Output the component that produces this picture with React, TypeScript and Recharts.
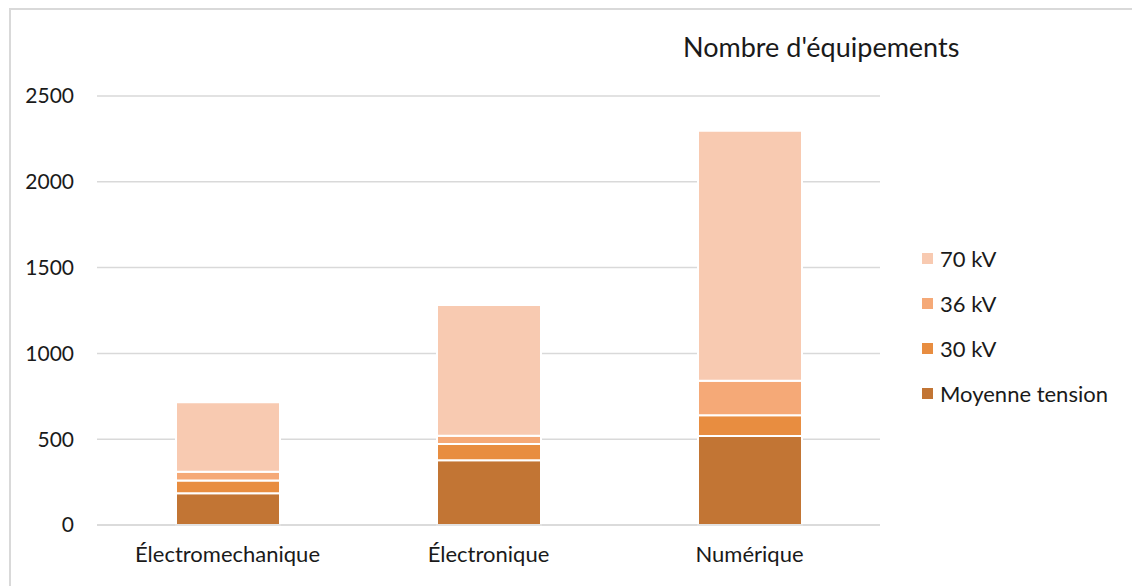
import { Bar, BarChart, CartesianGrid, XAxis, YAxis } from "recharts";

const categories = ["Électromechanique", "Électronique", "Numérique"];
const moyenneTension = [185, 377, 519];
const kv30 = [74, 95, 120];
const kv36 = [52, 48, 202];
const kv70 = [404, 762, 1457];
const yTicks = [0, 500, 1000, 1500, 2000, 2500];

const FONT = "Lato, 'Open Sans', sans-serif";
const TEXT = "#1a1a1a";
const GRID = "#D9D9D9";

const series = [
  { key: "mt", name: "Moyenne tension", color: "#C27534" },
  { key: "kv30", name: "30 kV", color: "#E88D40" },
  { key: "kv36", name: "36 kV", color: "#F5A977" },
  { key: "kv70", name: "70 kV", color: "#F8CAB1" },
];

const data = categories.map((c, i) => ({
  name: c,
  mt: moyenneTension[i],
  kv30: kv30[i],
  kv36: kv36[i],
  kv70: kv70[i],
}));

// legend drawn by hand, top item = last series (like Excel)
function LegendBox() {
  const items = [...series].reverse();
  return (
    <div style={{ fontFamily: FONT, fontSize: 22, color: TEXT }}>
      {items.map((s) => (
        <div key={s.key} style={{ display: "flex", alignItems: "center", height: 45 }}>
          <span style={{ width: 11, height: 11, background: s.color, marginRight: 7, display: "inline-block" }} />
          <span>{s.name}</span>
        </div>
      ))}
    </div>
  );
}

export default function App() {
  return (
    <div style={{ position: "absolute", left: 0, top: 0, width: 1132, height: 586, background: "#fff", overflow: "hidden" }}>
      <style>{"body{margin:0;overflow:hidden}"}</style>
      {/* chart frame: only left and top edges are visible in the crop */}
      <div
        style={{
          position: "absolute",
          left: 9,
          top: 8,
          width: 1121,
          height: 578,
          borderLeft: `2px solid ${GRID}`,
          borderTop: `2px solid ${GRID}`,
        }}
      />
      <div
        style={{
          position: "absolute",
          left: 683,
          top: 30,
          fontFamily: FONT,
          fontSize: 27,
          color: TEXT,
          whiteSpace: "nowrap",
        }}
      >
        Nombre d'équipements
      </div>
      <div style={{ position: "absolute", left: 922, top: 236 }}>
        <LegendBox />
      </div>
      <div style={{ position: "absolute", left: 0, top: 0 }}>
        <BarChart
          width={1132}
          height={586}
          data={data}
          margin={{ top: 96, right: 252, bottom: 21, left: 0 }}
        >
          <CartesianGrid vertical={false} stroke={GRID} strokeWidth={1.5} />
          <XAxis
            dataKey="name"
            height={40}
            axisLine={{ stroke: GRID, strokeWidth: 1.5 }}
            tickLine={false}
            tickSize={0}
            tickMargin={21}
            tick={{ fill: TEXT, fontSize: 22, fontFamily: FONT }}
          />
          <YAxis
            width={97}
            domain={[0, 2500]}
            ticks={yTicks}
            axisLine={false}
            tickLine={false}
            tickSize={0}
            tickMargin={23}
            tick={{ fill: TEXT, fontSize: 21, fontFamily: FONT }}
          />
          {series.map((s) => (
            <Bar
              key={s.key}
              dataKey={s.key}
              name={s.name}
              stackId="a"
              fill={s.color}
              stroke="#fff"
              strokeWidth={2}
              barSize={104}
              isAnimationActive={false}
            />
          ))}
        </BarChart>
      </div>
    </div>
  );
}
